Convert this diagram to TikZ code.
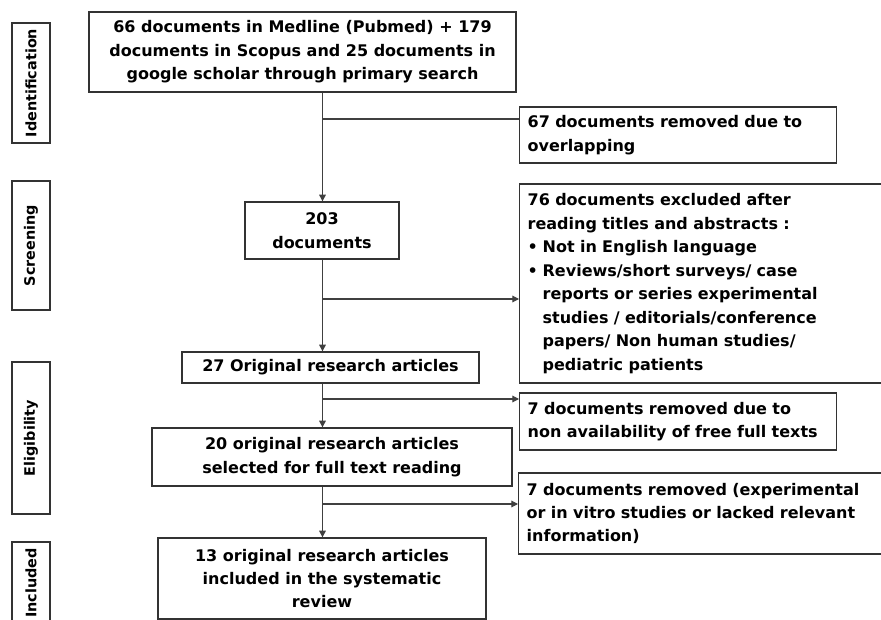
\documentclass[tikz,border=0pt]{standalone}
\usepackage{fontspec}
\setmainfont{DejaVu Sans}
\usetikzlibrary{positioning}
\usetikzlibrary{calc}
\usetikzlibrary{arrows.meta}
\begin{document}
\begin{tikzpicture}[
  x=0.75pt,y=-0.75pt,
  box/.style={draw=black!80,line width=1pt,inner xsep=6pt,inner ysep=0pt,font=\bfseries\fontsize{12}{17.6}\selectfont},
  stage/.style={draw=black!80,line width=1pt,rotate=90,inner sep=0pt,minimum height=28.5pt,font=\bfseries\fontsize{10.8}{13}\selectfont},
  flow/.style={draw=black!75,line width=0.8pt},
  arrowto/.style={flow,-{Triangle[length=5pt,width=5pt]}}
  ]
  \useasboundingbox (0,0) rectangle (881,620);
  \clip (0,0) rectangle (881,620);
  \fill [white] (0,0) rectangle (881,620);

  \node (ident)    [stage,minimum width=90pt]    at (31,83)    {Identification};
  \node (screen)   [stage,minimum width=96.75pt] at (31,245.5) {Screening};
  \node (elig)     [stage,minimum width=114pt]   at (31,438)   {Eligibility};
  \node (incl)     [stage,minimum width=61.5pt]  at (31,583)   {Included};

  \node (search)   [box,align=center,minimum width=320.25pt,minimum height=60pt] at (302.5,52)
    {66 documents in Medline (Pubmed) + 179\\documents in Scopus and 25 documents in\\google scholar through primary search};
  \node (docs203)  [box,align=center,minimum width=115.5pt,minimum height=42.75pt] at (322,230.5)
    {203\\documents};
  \node (orig27)   [box,align=center,minimum width=222.75pt,minimum height=23.25pt] at (330.5,367.5)
    {27 Original research articles};
  \node (sel20)    [box,align=center,minimum width=270pt,minimum height=43.5pt] at (332,457)
    {20 original research articles\\selected for full text reading};
  \node (incl13)   [box,align=center,minimum width=246pt,minimum height=60.75pt] at (322,578.5)
    {13 original research articles\\included in the systematic\\review};

  \node (overlap)  [box,anchor=west,align=left,text width=225.75pt,minimum height=42pt] at (519,135)
    {67 documents removed due to\\overlapping};
  \node (excluded) [box,anchor=west,align=left,text width=272pt,minimum height=149.25pt] at (519,283.5)
    {76 documents excluded after\\
     reading titles and abstracts :\\
     \makebox[11.25pt][l]{\textbullet}Not in English language\\
     \makebox[11.25pt][l]{\textbullet}Reviews/short surveys/ case\\
     \hspace*{11.25pt}reports or series experimental\\
     \hspace*{11.25pt}studies / editorials/conference\\
     \hspace*{11.25pt}papers/ Non human studies/\\
     \hspace*{11.25pt}pediatric patients};
  \node (freetext) [box,anchor=west,align=left,text width=225.75pt,minimum height=42.75pt] at (519,421.5)
    {7 documents removed due to\\non availability of free full texts};
  \node (lacked)   [box,anchor=west,align=left,text width=272pt,minimum height=60.75pt] at (518,513.5)
    {7 documents removed (experimental\\or in vitro studies or lacked relevant\\information)};

  \coordinate (spine) at (322.5,0);
  \coordinate (fork1) at (322.5,119);
  \coordinate (fork2) at (322.5,299);
  \coordinate (fork3) at (322.5,399);
  \coordinate (fork4) at (322.5,504);

  \draw [arrowto] (search.south -| spine) -- (docs203.north -| spine);
  \draw [flow] (fork1) -- (fork1 -| overlap.west);
  \draw [arrowto] (docs203.south -| spine) -- (orig27.north -| spine);
  \draw [arrowto] (fork2) -- (fork2 -| excluded.west);
  \draw [arrowto] (orig27.south -| spine) -- (sel20.north -| spine);
  \draw [arrowto] (fork3) -- (fork3 -| freetext.west);
  \draw [arrowto] (sel20.south -| spine) -- (incl13.north -| spine);
  \draw [arrowto] (fork4) -- (fork4 -| lacked.west);
\end{tikzpicture}
\end{document}
